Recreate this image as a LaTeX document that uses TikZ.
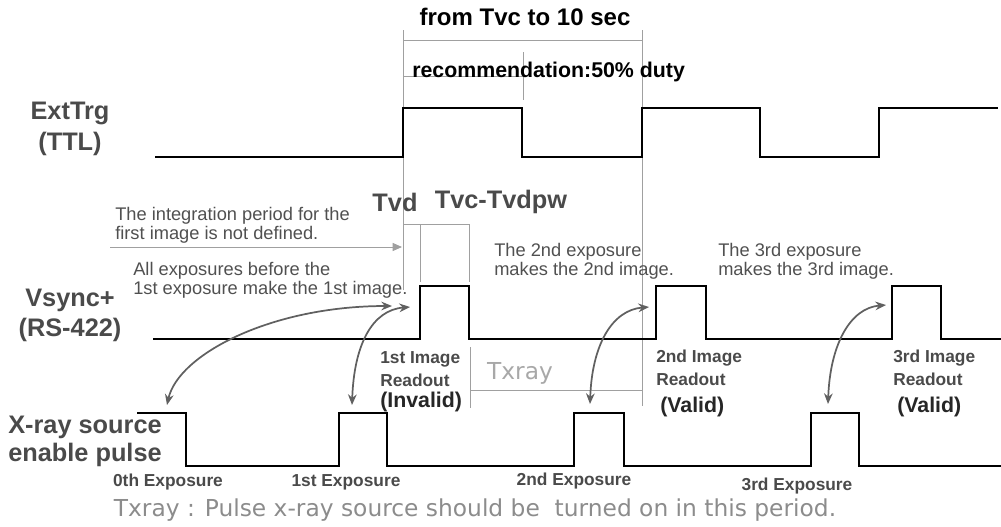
\documentclass[tikz,border=0pt]{standalone}
\usepackage{fontspec}
\setmainfont{Liberation Sans}
\newfontfamily\widefont{DejaVu Sans}
\usetikzlibrary{arrows.meta}
\definecolor{lblgray}{HTML}{4A4A4A}
\definecolor{txtgray}{HTML}{505050}
\definecolor{dimgray}{HTML}{A0A0A0}
\definecolor{lightgray}{HTML}{A8A8A8}
\definecolor{arrgray}{HTML}{606060}
\tikzset{
  wave/.style={line width=1.6pt, black, line join=miter},
  dimline/.style={line width=0.7pt, dimgray},
  sig/.style={font=\bfseries\fontsize{19}{22}\selectfont, text=lblgray, inner sep=0pt},
  big/.style={font=\bfseries\fontsize{18}{21}\selectfont, text=black, inner sep=0pt},
  rec/.style={font=\bfseries\fontsize{16}{19}\selectfont, text=black, inner sep=0pt},
  tlab/.style={font=\bfseries\fontsize{19}{22}\selectfont, text=lblgray, inner sep=0pt},
  small/.style={font=\fontsize{13.7}{16}\selectfont, text=txtgray, inner sep=0pt, anchor=west},
  readout/.style={font=\bfseries\fontsize{13}{15}\selectfont, text=lblgray, inner sep=0pt, anchor=west},
  valid/.style={font=\bfseries\fontsize{16}{19}\selectfont, text=black!85, inner sep=0pt, anchor=west},
  expo/.style={font=\bfseries\fontsize{13}{15}\selectfont, text=lblgray, inner sep=0pt},
  light/.style={font=\widefont\fontsize{17.5}{20}\selectfont, text=lightgray, inner sep=0pt},
  curv/.style={line width=1.3pt, arrgray, {Stealth[length=8pt,width=6.5pt]}-{Stealth[length=8pt,width=6.5pt]}},
}
\begin{document}
\begin{tikzpicture}[x=0.75pt,y=-0.75pt]
\useasboundingbox (0,0) rectangle (1001,526);
% ---------- dimension / guide lines ----------
\coordinate (g1t) at (403,30);  \coordinate (g1b) at (403,290);
\coordinate (g2t) at (642,30);  \coordinate (g2b) at (642,406);
\coordinate (gm)  at (523,52);  \coordinate (gmb) at (523,100);
\draw[dimline] (g1t) -- (g1b);
\draw[dimline] (g2t) -- (g2b);
\draw[dimline] (403,40) -- (642,40);
\draw[dimline] (gm) -- (gmb);
\draw[dimline] (403,76) -- (523,76);
% Tvd / Tvc-Tvdpw
\coordinate (tv1) at (420,224); \coordinate (tv2) at (469,224);
\draw[dimline] (404,224) -- (tv2);
\draw[dimline] (tv1) -- (420,282);
\draw[dimline] (tv2) -- (469,282);
% integration arrow
\coordinate (ia) at (110,247); \coordinate (ib) at (402,247);
\draw[dimline, -{Triangle[length=7pt,width=6pt]}] (ia) -- (ib);
% Txray box
\coordinate (tx1) at (470,347); \coordinate (tx2) at (470,408);
\draw[dimline] (tx1) -- (tx2);
\draw[dimline] (470,390) -- (642,390);
% ---------- waveforms ----------
\draw[wave] (155,157) -- (403,157) -- (403,108) -- (522,108) -- (522,157) -- (642,157) -- (642,108) -- (760,108) -- (760,157) -- (879,157) -- (879,108) -- (998,108);
\draw[wave] (153,339) -- (420,339) -- (420,286) -- (469,286) -- (469,339) -- (656,339) -- (656,286) -- (706,286) -- (706,339) -- (892,339) -- (892,286) -- (941,286) -- (941,339) -- (1001,339);
\draw[wave] (137,413) -- (186,413) -- (186,466) -- (339,466) -- (339,413) -- (387,413) -- (387,466) -- (574,466) -- (574,413) -- (624,413) -- (624,466) -- (811,466) -- (811,413) -- (859,413) -- (859,466) -- (1001,466);
% ---------- curved arrows ----------
\coordinate (c0a) at (167,405); \coordinate (c0b) at (392,306);
\coordinate (c1a) at (352,405); \coordinate (c1b) at (410,307);
\coordinate (c2a) at (590,404); \coordinate (c2b) at (649,307);
\coordinate (c3a) at (828,404); \coordinate (c3b) at (886,305);
\draw[curv] (c0a) .. controls (178,355) and (270,306) .. (c0b);
\draw[curv] (c1a) .. controls (354,345) and (372,310) .. (c1b);
\draw[curv] (c2a) .. controls (592,345) and (612,310) .. (c2b);
\draw[curv] (c3a) .. controls (830,345) and (850,308) .. (c3b);
% ---------- texts ----------
\node[big] (title) at (525,17) {from Tvc to 10 sec};
\node[rec, anchor=west] (recom) at (412,72) {recommendation:50\% duty};
\node[sig] (ext1) at (70,113) {ExtTrg};
\node[sig] (ext2) at (70,144) {(TTL)};
\node[sig] (vs1) at (70,300) {Vsync+};
\node[sig] (vs2) at (70,330) {(RS-422)};
\node[sig, anchor=west] (xr1) at (8,427) {X-ray source};
\node[sig, anchor=west] (xr2) at (8,455) {enable pulse};
\node[tlab] (tvd) at (395,202) {Tvd};
\node[tlab] (tvc) at (501,202) {Tvc-Tvdpw};
\node[small] (int1) at (115,216) {The integration period for the};
\node[small] (int2) at (115,235) {first image is not defined.};
\node[small] (all1) at (133,271) {All exposures before the};
\node[small] (all2) at (133,290) {1st exposure make the 1st image.};
\node[small] (e21) at (494,252) {The 2nd exposure};
\node[small] (e22) at (494,271) {makes the 2nd image.};
\node[small] (e31) at (718,252) {The 3rd exposure};
\node[small] (e32) at (718,271) {makes the 3rd image.};
\node[readout] (r11) at (380,359) {1st Image};
\node[readout] (r12) at (380,380) {Readout};
\node[valid] (r13) at (380,402) {(Invalid)};
\node[readout] (r21) at (656,358) {2nd Image};
\node[readout] (r22) at (656,379) {Readout};
\node[valid] (r23) at (660,407) {(Valid)};
\node[readout] (r31) at (893,358) {3rd Image};
\node[readout] (r32) at (893,379) {Readout};
\node[valid] (r33) at (897,407) {(Valid)};
\node[light] (txr) at (520,373) {Txray};
\node[expo] (x0) at (168,482) {0th Exposure};
\node[expo] (x1) at (346,482) {1st Exposure};
\node[expo] (x2) at (574,481) {2nd Exposure};
\node[expo] (x3) at (797,486) {3rd Exposure};
\node[light, text=black!45] (bot) at (475,510) {Txray : Pulse x-ray source should be\ \ turned on in this period.};
\end{tikzpicture}
\end{document}
